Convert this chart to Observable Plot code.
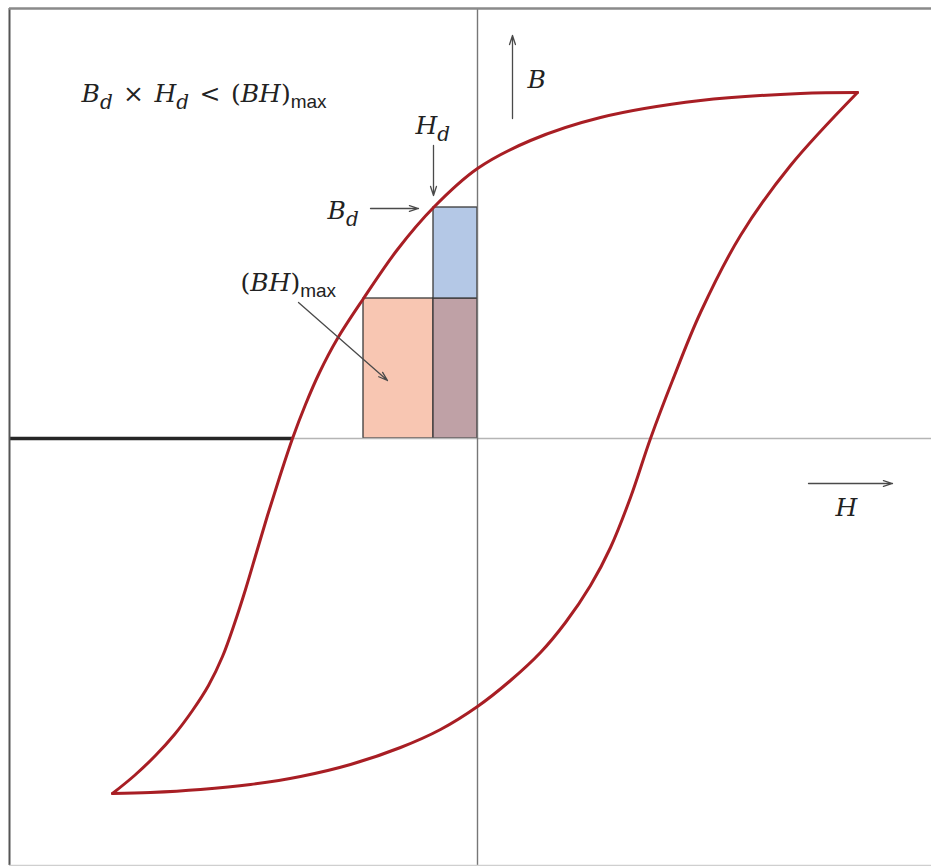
<!DOCTYPE html>
<html>
<head>
<meta charset="utf-8">
<script src="https://cdn.jsdelivr.net/npm/d3@7"></script>
<script src="https://cdn.jsdelivr.net/npm/@observablehq/plot@0.6"></script>
<style>
  body { margin: 0; background: #fff; }
</style>
</head>
<body>
<div id="chart"></div>
<script>
// Hysteresis loop of a permanent magnet, B against H (reduced units).
// Upper (demagnetising) branch, listed from negative to positive saturation.
const upperH = [-3.65, -3.43, -3.22, -3.03, -2.85, -2.69, -2.55, -2.43, -2.32, -2.21, -2.10, -1.98, -1.85, -1.72, -1.58, -1.40, -1.14, -0.80, -0.44, 0, 0.53, 1.23, 2.23, 3.23, 3.80];
const upperB = [-3.55, -3.37, -3.17, -2.96, -2.72, -2.47, -2.18, -1.85, -1.51, -1.14, -0.77, -0.39, 0, 0.34, 0.66, 1.00, 1.40, 1.89, 2.31, 2.70, 2.98, 3.21, 3.38, 3.45, 3.46];
// Lower branch, from negative to positive saturation.
const lowerH = [-3.65, -3.27, -2.77, -2.27, -1.77, -1.27, -0.77, -0.37, 0, 0.33, 0.63, 0.88, 1.13, 1.33, 1.53, 1.73, 1.95, 2.23, 2.63, 3.13, 3.80];
const lowerB = [-3.55, -3.54, -3.51, -3.46, -3.38, -3.26, -3.09, -2.91, -2.68, -2.42, -2.14, -1.84, -1.47, -1.09, -0.59, 0, 0.58, 1.26, 2.03, 2.73, 3.46];

// Working point (Hd, Bd), maximum energy product point and coercive field.
const Hd = -0.44, Bd = 2.31;
const Hm = -1.14, Bm = 1.40;
const Hc = -1.85;

// Visible extent of the H and B axes.
const xDomain = [-4.68, 4.54];
const yDomain = [-4.27, 4.30];

// Annotation texts and where they sit.
const labelText = ["B_d\u200a × \u200aH_d\u200a < \u200a(BH)_max", "B", "H", "H_d", "B_d", "(BH)_max"];
const labelH    = [-3.96, 0.50, 3.58, -0.62, -1.50, -2.37];
const labelB    = [3.37, 3.51, -0.77, 3.05, 2.20, 1.48];

// Arrows: axis directions and pointers to Hd, Bd and (BH)max.
const arrowH1 = [0.35, 3.31, -0.44, -1.07, -1.79];
const arrowB1 = [3.20, -0.45, 2.93, 2.30, 1.36];
const arrowH2 = [0.35, 4.15, -0.44, -0.59, -0.90];
const arrowB2 = [4.03, -0.45, 2.43, 2.30, 0.58];

const upper = upperH.map((h, i) => ({H: h, B: upperB[i]}));
const lower = lowerH.map((h, i) => ({H: h, B: lowerB[i]}));
const labels = labelText.map((t, i) => ({text: t, H: labelH[i], B: labelB[i]}));
const arrows = arrowH1.map((h, i) => ({x1: h, y1: arrowB1[i], x2: arrowH2[i], y2: arrowB2[i]}));

// Energy-product rectangles: (BH)max part left of Hd, overlap, and Bd×Hd part above Bm.
const rects = [
  {x1: Hm, x2: Hd, y1: 0, y2: Bm, fill: "#f8c6b2"},
  {x1: Hd, x2: 0, y1: 0, y2: Bm, fill: "#bfa1a6"},
  {x1: Hd, x2: 0, y1: Bm, y2: Bd, fill: "#b4c8e6"}
];

const curveColor = "#a81e24";

const chart = Plot.plot({
  width: 931,
  height: 866,
  marginLeft: 9,
  marginRight: 0,
  marginTop: 8,
  marginBottom: 1,
  x: {domain: xDomain, axis: null},
  y: {domain: yDomain, axis: null},
  marks: [
    Plot.rect(rects, {x1: "x1", x2: "x2", y1: "y1", y2: "y2", fill: "fill", stroke: "#3a3a3a", strokeWidth: 1.3}),
    Plot.ruleY([0], {stroke: "#b5b5b5", strokeWidth: 1.5}),
    Plot.ruleX([0], {stroke: "#777", strokeWidth: 1.4}),
    Plot.ruleY([0], {x1: xDomain[0], x2: Hc, stroke: "#262626", strokeWidth: 3.5}),
    Plot.line(upper, {x: "H", y: "B", curve: "catmull-rom", stroke: curveColor, strokeWidth: 3}),
    Plot.line(lower, {x: "H", y: "B", curve: "catmull-rom", stroke: curveColor, strokeWidth: 3}),
    Plot.arrow(arrows, {x1: "x1", y1: "y1", x2: "x2", y2: "y2", stroke: "#4a4a4a", strokeWidth: 1.3, headLength: 11, headAngle: 36}),
    Plot.text(labels, {x: "H", y: "B", text: "text", textAnchor: "start", lineAnchor: "bottom",
      fontSize: 25, fontFamily: "DejaVu Serif, serif", fill: "#222"}),
    // frame of the figure
    Plot.ruleX([xDomain[0]], {stroke: "#555", strokeWidth: 2}),
    Plot.ruleY([yDomain[1]], {stroke: "#8a8a8a", strokeWidth: 2.5}),
    Plot.ruleY([yDomain[0]], {stroke: "#cfcfcf", strokeWidth: 1.5})
  ]
});

// Set the labels as math: capitals italic, "_x" as a subscript ("max" upright sans).
const SVGNS = "http://www.w3.org/2000/svg";
function typeset(el) {
  const s = el.textContent;
  el.textContent = "";
  const re = /_([a-z]+)|([A-Za-z])|([^A-Za-z_]+)/g;
  let m, lowered = 0;
  while ((m = re.exec(s))) {
    const t = document.createElementNS(SVGNS, "tspan");
    if (m[1]) {
      const isMax = m[1] === "max";
      const shift = isMax ? 6 : 7;
      t.textContent = m[1];
      t.setAttribute("dy", shift - lowered);
      lowered = shift;
      if (isMax) {
        t.setAttribute("font-family", "Liberation Sans, sans-serif");
        t.setAttribute("font-size", 19);
      } else {
        t.setAttribute("font-style", "italic");
        t.setAttribute("font-size", 20);
      }
    } else {
      t.textContent = m[2] || m[3];
      if (m[2]) t.setAttribute("font-style", "italic");
      if (lowered) { t.setAttribute("dy", -lowered); lowered = 0; }
    }
    el.appendChild(t);
  }
}
chart.querySelectorAll("text").forEach(el => {
  if (labelText.includes(el.textContent)) typeset(el);
});

document.getElementById("chart").appendChild(chart);
</script>
</body>
</html>
